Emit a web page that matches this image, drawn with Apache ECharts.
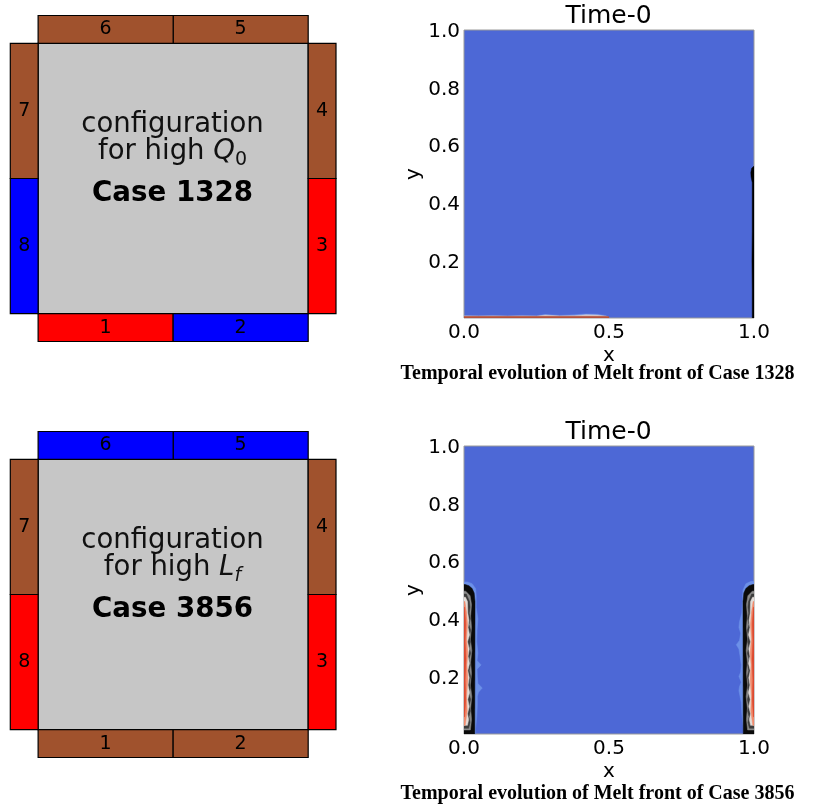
<!DOCTYPE html>
<html><head><meta charset="utf-8">
<style>html,body{margin:0;padding:0;background:#fff}#c{width:830px;height:810px}</style>
<script src="https://cdn.jsdelivr.net/npm/echarts@6/dist/echarts.min.js"></script>
</head><body><div id="c"></div>
<script>
// ---------- data ----------
const segmentLabels = ['1','2','3','4','5','6','7','8'];
const segmentsCase1328 = ['heat','cold','heat','wood','wood','wood','wood','cold'];
const segmentsCase3856 = ['wood','wood','heat','wood','cold','cold','wood','heat'];
const xTicks = [0, 0.5, 1];
const yTicks = [0.2, 0.4, 0.6, 0.8, 1];

// Case 3856, melt front: height and distance from the wall
const haloLeftY  = [0,.02,.06,.1,.13,.145,.16,.175,.2,.225,.24,.255,.28,.32,.36,.4,.44,.48,.505,.522,.528];
const haloLeftW  = [.04,.04,.044,.046,.046,.05,.063,.048,.046,.045,.059,.045,.048,.044,.045,.048,.042,.042,.04,.028,.012];
const haloRightY = [0,.03,.07,.11,.15,.165,.18,.2,.215,.24,.27,.295,.31,.325,.35,.37,.39,.42,.46,.5,.522,.53];
const haloRightW = [.036,.038,.042,.044,.052,.05,.044,.052,.046,.044,.048,.052,.061,.05,.046,.052,.05,.042,.04,.038,.028,.01];
const blackY = [0,.46,.49,.505,.515,.519];
const blackW = [.037,.038,.035,.028,.017,.004];
const greyY  = [.014,.05,.09,.13,.17,.21,.25,.29,.33,.37,.41,.45,.48,.496];
const greyW  = [.022,.026,.023,.027,.022,.026,.023,.027,.022,.026,.023,.026,.021,.006];
const streakY = [.02,.04,.06,.08,.1,.12,.14,.16,.18,.2,.22,.24,.26,.28,.3,.32,.34,.36,.38,.4,.42,.44,.46,.486];
const streakW = [.016,.021,.017,.022,.018,.023,.017,.022,.019,.023,.018,.022,.017,.023,.018,.022,.019,.023,.017,.022,.018,.021,.019,.008];
const whiteY = [.03,.05,.07,.095,.12,.145,.17,.195,.22,.245,.27,.295,.32,.345,.37,.395,.42,.46,.475];
const whiteW = [.012,.016,.012,.018,.013,.019,.014,.018,.013,.019,.014,.018,.012,.019,.014,.017,.013,.012,.005];
const salmonY = [.03,.08,.13,.19,.24,.28,.33,.38,.42,.46];
const salmonW = [.004,.011,.009,.013,.01,.013,.009,.012,.009,.003];
const redY = [.06,.12,.19,.26,.32,.38,.44];
const redW = [.002,.006,.004,.007,.004,.006,.002];

// Case 1328, melt front along the floor and along the right wall
const floorX = [0,.05,.1,.15,.2,.25,.28,.33,.38,.42,.46,.49,.5];
const floorHalo = [.009,.008,.009,.007,.009,.008,.012,.009,.011,.014,.013,.008,.002];
const floorPale = [.007,.006,.007,.006,.007,.006,.01,.007,.008,.011,.01,.006,.001];
const floorRed  = [.006,.006,.006,.006,.006,.006,.006,.006,.006,.006,.006,.006,.004];
const wallY = [0,.1,.2,.3,.4,.47,.49,.505,.52,.526];
const wallW = [.006,.006,.007,.006,.006,.006,.01,.011,.008,.002];

// ---------- styles ----------
const segColor = {heat:'#ff0000', cold:'#0000ff', wood:'#a0522d'};
const SANS = '"DejaVu Sans"';
const BG = '#4d68d6', HALO = '#6c90e8';

const chart = echarts.init(document.getElementById('c'), null, {renderer:'canvas'});

// ---------- schematic ----------
const T = 0.103;
function segmentBox(i){
  const t = -T, e = 1+T;
  return [
    [0,.5,t,0],[.5,1,t,0],[1,e,0,.5],[1,e,.5,1],
    [.5,1,1,e],[0,.5,1,e],[t,0,.5,1],[t,0,0,.5]
  ][i];
}
function schematicSeries(gridIndex, cfg){
  return {
    type:'custom', xAxisIndex:gridIndex, yAxisIndex:gridIndex, silent:true, clip:false,
    data: cfg.map((kind,i)=>({value:segmentBox(i), kind})),
    renderItem(p, api){
      const b = segmentBox(p.dataIndex);
      const a = api.coord([b[0],b[3]]), c = api.coord([b[1],b[2]]);
      const m = api.coord([(b[0]+b[1])/2,(b[2]+b[3])/2]);
      return {type:'group', children:[
        {type:'rect', shape:{x:a[0],y:a[1],width:c[0]-a[0],height:c[1]-a[1]},
         style:{fill:segColor[cfg[p.dataIndex]], stroke:'#000', lineWidth:1.2}},
        {type:'text', style:{x:m[0],y:m[1],text:segmentLabels[p.dataIndex],
          font:'19px '+SANS, fill:'#000', align:'center', verticalAlign:'middle'}}
      ]};
    }
  };
}
function plateSeries(gridIndex){
  return {
    type:'custom', xAxisIndex:gridIndex, yAxisIndex:gridIndex, silent:true, clip:false,
    data:[[0,0,1,1]],
    renderItem(p, api){
      const a = api.coord([0,1]), c = api.coord([1,0]);
      return {type:'rect', shape:{x:a[0],y:a[1],width:c[0]-a[0],height:c[1]-a[1]},
        style:{fill:'#c6c6c6', stroke:'#000', lineWidth:1.2}};
    }
  };
}

// ---------- melt front ----------
function wallPolygon(ys, ws, side){
  const pts = ys.map((y,i)=>[side==='left'? ws[i] : 1-ws[i], y]);
  const w = side==='left'? 0 : 1;
  return [[w,ys[0]], ...pts, [w,ys[ys.length-1]]];
}
function floorPolygon(xs, hs){
  return [[xs[0],0], ...xs.map((x,i)=>[x,hs[i]]), [xs[xs.length-1],0]];
}
function polySeries(gridIndex, pts, color){
  return {
    type:'custom', xAxisIndex:gridIndex, yAxisIndex:gridIndex, silent:true, clip:true,
    data: pts,
    renderItem(p, api){
      if(p.dataIndex!==0) return null;
      return {type:'polygon', shape:{points:pts.map(q=>api.coord(q))},
        style:{fill:color, stroke:color, lineWidth:0.5}};
    }
  };
}

// ---------- layout ----------
const schemAxis = idx => ({type:'value', gridIndex:idx, min:-T, max:1+T, show:false});
const fieldX = idx => ({
  type:'value', gridIndex:idx, min:0, max:1, interval:.5,
  name:'x', nameLocation:'middle', nameGap:28, nameTextStyle:{fontFamily:SANS,fontSize:20,color:'#000'},
  axisLine:{show:false}, axisTick:{show:false}, splitLine:{show:false},
  axisLabel:{fontFamily:SANS,fontSize:20,color:'#000',margin:5,
    formatter:v=>xTicks.includes(v)?v.toFixed(1):''}
});
const fieldY = idx => ({
  type:'value', gridIndex:idx, min:0, max:1, interval:.2,
  name:'y', nameLocation:'middle', nameGap:38, nameTextStyle:{fontFamily:SANS,fontSize:20,color:'#000'},
  axisLine:{show:false}, axisTick:{show:false}, splitLine:{show:false},
  axisLabel:{margin:4,
    rich:{t:{fontFamily:SANS,fontSize:20,color:'#000',padding:[4,0,0,0]}},
    formatter:v=>yTicks.some(t=>Math.abs(t-v)<1e-6)?'{t|'+v.toFixed(1)+'}':''}
});
const fieldGrid = top => ({left:464, width:290, top, height:288, show:true,
  backgroundColor:BG, borderColor:'#9a9a9a', borderWidth:1});
const schemGrid = top => ({left:10.3, width:325.7, top, height:326, show:false});

const base = {fontFamily:SANS,fontSize:27.5,fontWeight:'normal',color:'#111',lineHeight:36};
const configRich = {
  b:{...base},
  i:{...base,fontStyle:'italic'},
  s:{...base,fontSize:19,verticalAlign:'bottom',padding:[10,0,0,0]},
  si:{...base,fontSize:19,fontStyle:'italic',verticalAlign:'bottom',padding:[10,0,0,0]}
};
function texts(top, sym, caseName, caption, capTop){
  return [
    {text:'{b|for high }{i|'+sym[0]+'}{'+sym[2]+'|'+sym[1]+'}', left:167.5, top:top+107, textAlign:'center',
      textStyle:{rich:configRich}},
    {text:'configuration', left:167.5, top:top+84, textAlign:'center',
      textStyle:{fontFamily:SANS,fontSize:27.5,fontWeight:'normal',color:'#111'}},
    {text:caseName, left:167.5, top:top+153, textAlign:'center',
      textStyle:{fontFamily:SANS,fontSize:27.7,fontWeight:'bold',color:'#000'}},
    {text:'Time-0', left:603.5, top:top-23, textAlign:'center',
      textStyle:{fontFamily:SANS,fontSize:25,fontWeight:'normal',color:'#000'}},
    {text:caption, left:592.5, top:capTop, textAlign:'center',
      textStyle:{fontFamily:'"Liberation Serif"',fontSize:20,fontWeight:'bold',color:'#000'}}
  ];
}

chart.setOption({
  animation:false, backgroundColor:'#fff',
  title:[
    ...texts(22,['Q','0','s'],'Case 1328','Temporal evolution of Melt front of Case 1328',359),
    ...texts(438,['L','f','si'],'Case 3856','Temporal evolution of Melt front of Case 3856',779)
  ],
  grid:[schemGrid(15.5), fieldGrid(30), schemGrid(431.5), fieldGrid(446)],
  xAxis:[schemAxis(0), fieldX(1), schemAxis(2), fieldX(3)],
  yAxis:[schemAxis(0), fieldY(1), schemAxis(2), fieldY(3)],
  series:[
    plateSeries(0), schematicSeries(0, segmentsCase1328),
    plateSeries(2), schematicSeries(2, segmentsCase3856),

    polySeries(1, floorPolygon(floorX,floorHalo), HALO),
    polySeries(1, floorPolygon(floorX,floorPale), '#d9d2d6'),
    polySeries(1, floorPolygon(floorX,floorRed), '#b4523c'),
    polySeries(1, wallPolygon(wallY,wallW,'right'), '#000'),

    polySeries(3, wallPolygon(haloLeftY,haloLeftW,'left'), HALO),
    polySeries(3, wallPolygon(blackY,blackW,'left'), '#0a0a0a'),
    polySeries(3, wallPolygon(greyY,greyW,'left'), '#8a8a8a'),
    polySeries(3, wallPolygon(streakY,streakW,'left'), '#3c3c3c'),
    polySeries(3, wallPolygon(whiteY,whiteW,'left'), '#e2dcd8'),
    polySeries(3, wallPolygon(salmonY,salmonW,'left'), '#f08a6c'),
    polySeries(3, wallPolygon(redY,redW,'left'), '#dd4a30'),

    polySeries(3, wallPolygon(haloRightY,haloRightW,'right'), HALO),
    polySeries(3, wallPolygon(blackY,blackW,'right'), '#0a0a0a'),
    polySeries(3, wallPolygon(greyY,greyW,'right'), '#8a8a8a'),
    polySeries(3, wallPolygon(streakY,streakW,'right'), '#3c3c3c'),
    polySeries(3, wallPolygon(whiteY,whiteW,'right'), '#e2dcd8'),
    polySeries(3, wallPolygon(salmonY,salmonW,'right'), '#f08a6c'),
    polySeries(3, wallPolygon(redY,redW,'right'), '#dd4a30')
  ]
});
</script></body></html>
